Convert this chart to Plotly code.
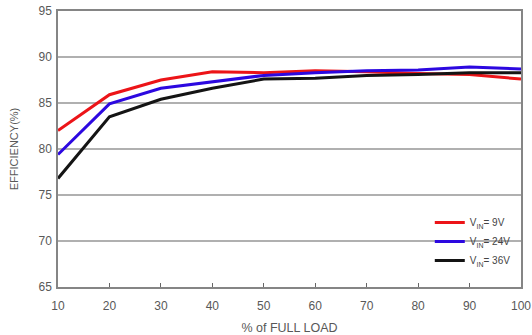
import plotly.graph_objects as go

load = [10, 20, 30, 40, 50, 60, 70, 80, 90, 100]
eff_9v = [82.0, 85.9, 87.5, 88.4, 88.3, 88.5, 88.4, 88.2, 88.1, 87.6]
eff_24v = [79.4, 84.9, 86.6, 87.3, 88.0, 88.3, 88.5, 88.6, 88.9, 88.7]
eff_36v = [76.8, 83.5, 85.4, 86.6, 87.6, 87.7, 88.0, 88.1, 88.3, 88.3]
series_names = ["V<sub>IN</sub>= 9V", "V<sub>IN</sub>= 24V", "V<sub>IN</sub>= 36V"]
colors = ["#ec1418", "#2c08e0", "#141414"]
y_ticks = [65, 70, 75, 80, 85, 90, 95]
x_ticks = [10, 20, 30, 40, 50, 60, 70, 80, 90, 100]

fig = go.Figure()
for name, vals, c in zip(series_names, [eff_9v, eff_24v, eff_36v], colors):
    fig.add_trace(go.Scatter(x=load, y=vals, mode="lines", name=name,
                             line=dict(color=c, width=3)))

fig.update_layout(
    width=532, height=335,
    margin=dict(l=58, r=11, t=11, b=48, autoexpand=False),
    paper_bgcolor="white", plot_bgcolor="white",
    font=dict(family="Liberation Sans, Arial, sans-serif", color="#585858", size=12),
    showlegend=True,
    legend=dict(x=0.803, y=0.286, xanchor="left", yanchor="top",
                bgcolor="rgba(0,0,0,0)", font=dict(size=10, color="#444444"),
                tracegroupgap=0, itemwidth=30),
)
fig.update_xaxes(range=[10, 100], tickvals=x_ticks, showgrid=False,
                 ticks="inside", ticklen=4, tickcolor="#666666",
                 ticklabelstandoff=7,
                 showline=True, linecolor="#858585", linewidth=1.5, mirror=True,
                 zeroline=False, automargin=False,
                 title=dict(text="% of FULL LOAD", font=dict(size=12.5), standoff=12))
fig.update_yaxes(range=[65, 95], tickvals=y_ticks, showgrid=True,
                 gridcolor="#b0b0b0", gridwidth=1.5, ticks="",
                 ticklabelstandoff=2,
                 showline=True, linecolor="#858585", linewidth=1.5, mirror=True,
                 zeroline=False, automargin=False,
                 title=dict(text="EFFICIENCY(%)", font=dict(size=11), standoff=18))

fig.write_html("out.html", config={"displayModeBar": False},
               post_script="document.body.style.margin='0px';")
